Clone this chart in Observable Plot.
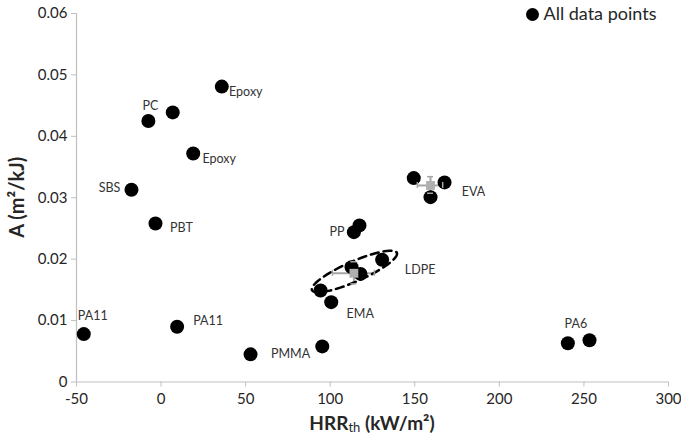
<!DOCTYPE html>
<html>
<head>
<meta charset="utf-8">
<script src="https://cdn.jsdelivr.net/npm/d3@7"></script>
<script src="https://cdn.jsdelivr.net/npm/@observablehq/plot@0.6"></script>
<style>
  html, body { margin: 0; padding: 0; background: #fff; }
  #chart { width: 681px; height: 439px; }
</style>
</head>
<body>
<div id="chart"></div>
<script>
// ---- data ----
const pointX = [-45.7, 9.5, 52.9, 95.3, 94.3, 100.6, 112.6, 117.9, 130.7, 114.0, 117.3,
                149.4, 167.6, 159.3, 35.9, 6.9, -7.5, 19.0, -17.5, -3.3, 240.5, 253.3];
const pointY = [0.0078, 0.0090, 0.0045, 0.0058, 0.0149, 0.0130, 0.0187, 0.0176, 0.0199, 0.0244, 0.0255,
                0.0332, 0.0325, 0.0301, 0.0481, 0.0439, 0.0425, 0.0372, 0.0313, 0.0258, 0.0063, 0.0068];
const pointLabel = ["PA11", "PA11", "PMMA", "", "", "EMA", "", "", "LDPE", "PP", "",
                    "", "EVA", "", "Epoxy", "", "PC", "Epoxy", "SBS", "PBT", "PA6", ""];
// mean values with error bars (EVA, LDPE)
const meanName = ["EVA", "LDPE"];
const meanX = [159.3, 114.0];
const meanY = [0.0320, 0.0177];
const meanXErr = [7.5, 12.4];
const meanYErr = [0.00135, 0.0018];
// LDPE grouping ellipse (data units): centre, half-major vector, half-minor vector
const ellipseCenter = [114.3, 0.0180];
const ellipseMajor = [25.1, 0.00304];
const ellipseMinor = [2.4, -0.00149];
const xTicks = [-50, 0, 50, 100, 150, 200, 250, 300];
const yTicks = [0, 0.01, 0.02, 0.03, 0.04, 0.05, 0.06];
const legendLabel = "All data points";

// ---- style (label offsets in px, per point index) ----
const labelOffset = {0: [9, -18], 1: [31, -6], 2: [40, 0], 5: [29, 12], 8: [38, 10], 9: [-17, 0],
                     12: [29, 10], 14: [24, 5], 16: [2, -15], 17: [26, 5], 18: [-22, -2], 19: [26, 4], 20: [8, -19]};

const points = pointX.map((x, i) => ({x, y: pointY[i], label: pointLabel[i], i}));
const means = meanName.map((n, i) => ({name: n, x: meanX[i], y: meanY[i], xe: meanXErr[i], ye: meanYErr[i]}));
const ellipse = d3.range(0, 73).map(k => {
  const t = k / 72 * 2 * Math.PI;
  return {x: ellipseCenter[0] + Math.cos(t) * ellipseMajor[0] + Math.sin(t) * ellipseMinor[0],
          y: ellipseCenter[1] + Math.cos(t) * ellipseMajor[1] + Math.sin(t) * ellipseMinor[1]};
});

const errColor = "#a6a6a6";
const axisColor = "#bfbfbf";
const textColor = "#262626";

const labelMarks = points.filter(p => p.label).map(p => Plot.text([p], {
  x: "x", y: "y", text: "label", dx: labelOffset[p.i][0], dy: labelOffset[p.i][1],
  fontSize: 12.5, fill: "#333", textAnchor: "middle"
}));

const plot = Plot.plot({
  width: 681,
  height: 439,
  marginLeft: 76,
  marginRight: 13,
  marginTop: 13,
  marginBottom: 57.5,
  style: {fontFamily: "Lato, 'Open Sans', sans-serif", fontSize: "15px", background: "#fff", color: textColor},
  x: {type: "linear", domain: [-50, 300]},
  y: {type: "linear", domain: [0, 0.06]},
  marks: [
    Plot.ruleX([-50], {stroke: axisColor, strokeWidth: 1.2}),
    Plot.ruleY([0], {stroke: axisColor, strokeWidth: 1.2}),
    Plot.axisX({ticks: xTicks, tickFormat: d => String(d), tickSize: 5, tickPadding: 6,
                stroke: axisColor, fill: textColor, fontSize: 15, label: null}),
    Plot.axisY({ticks: yTicks, tickFormat: d => d === 0 ? "0" : d.toFixed(2), tickSize: 5, tickPadding: 4,
                stroke: axisColor, fill: textColor, fontSize: 15, label: null}),
    // error bars
    Plot.link(means, {x1: d => d.x - d.xe, x2: d => d.x + d.xe, y1: "y", y2: "y", stroke: errColor, strokeWidth: 2}),
    Plot.link(means, {x1: "x", x2: "x", y1: d => d.y - d.ye, y2: d => d.y + d.ye, stroke: errColor, strokeWidth: 2}),
    Plot.dot(points, {x: "x", y: "y", r: 7, fill: "#000"}),
    Plot.dot(means, {x: "x", y: "y", symbol: "square", r: 5, fill: "#b0b0b0"}),
    Plot.line(ellipse, {x: "x", y: "y", stroke: "#000", strokeWidth: 2.5, strokeDasharray: "8,5", curve: "linear-closed"}),
    ...labelMarks,
    // legend
    Plot.dot([legendLabel], {frameAnchor: "top-right", dx: -136, dy: 1, r: 6.5, fill: "#000"}),
    Plot.text([legendLabel], {frameAnchor: "top-right", dx: -125, dy: 1, text: d => d, textAnchor: "start",
                              lineAnchor: "middle", fontSize: 18, fill: textColor})
  ]
});

document.getElementById("chart").appendChild(plot);

// error bar caps (short perpendicular lines at the arm ends), via the plot's scales
const svg = d3.select(plot);
const sx = plot.scale("x"), sy = plot.scale("y");
const capG = svg.append("g").attr("stroke", errColor).attr("stroke-width", 1.5);
means.forEach(d => {
  const cx = sx.apply(d.x), cy = sy.apply(d.y);
  [sx.apply(d.x - d.xe), sx.apply(d.x + d.xe)].forEach(px =>
    capG.append("line").attr("x1", px).attr("x2", px).attr("y1", cy - 3).attr("y2", cy + 3));
  [sy.apply(d.y - d.ye), sy.apply(d.y + d.ye)].forEach(py =>
    capG.append("line").attr("x1", cx - 3).attr("x2", cx + 3).attr("y1", py).attr("y2", py));
});

// axis titles
const xt = svg.append("text")
  .attr("x", (76 + 668) / 2).attr("y", 430)
  .attr("text-anchor", "middle").attr("font-weight", "bold").attr("font-size", 19)
  .attr("fill", textColor);
xt.append("tspan").text("HRR");
xt.append("tspan").text("th").attr("font-size", 13).attr("font-weight", "normal").attr("dy", 2);
xt.append("tspan").text(" (kW/m²)").attr("dy", -2);

svg.append("text")
  .attr("transform", `translate(24, ${(13 + 381.5) / 2}) rotate(-90)`)
  .attr("text-anchor", "middle").attr("font-weight", "bold").attr("font-size", 20)
  .attr("fill", textColor)
  .text("A (m²/kJ)");
</script>
</body>
</html>
